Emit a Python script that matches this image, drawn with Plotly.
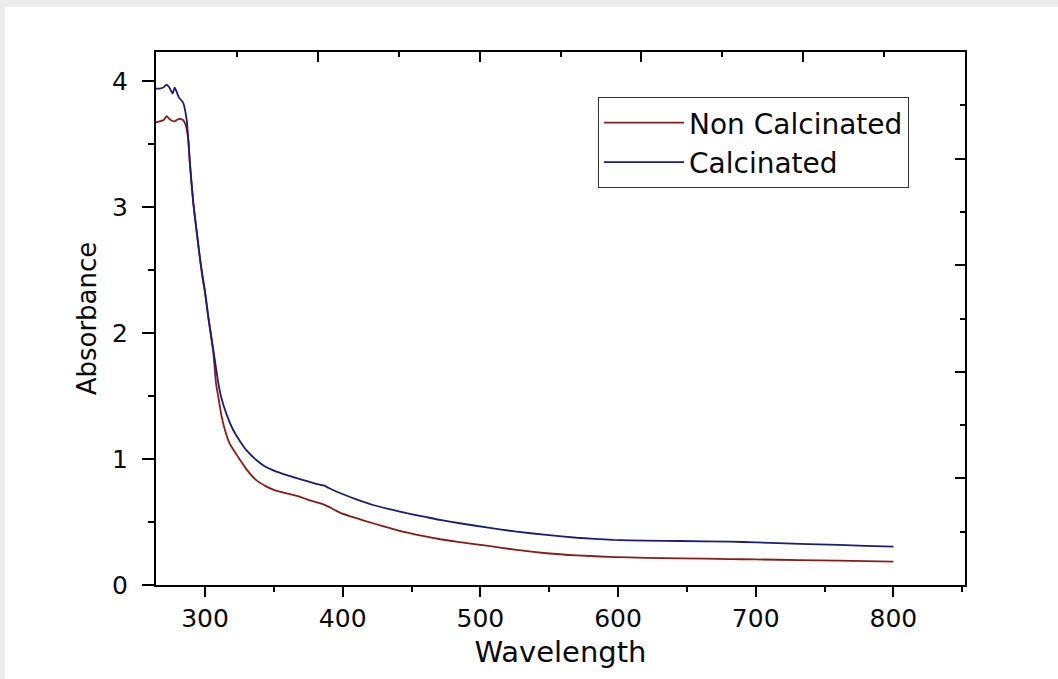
import plotly.graph_objects as go

# ---- data ----
wl_noncalc = [264, 267, 270, 272, 275, 278, 281, 284, 286, 288, 289, 291.5, 294, 296, 298, 300, 302,
              304, 306, 308, 310, 312, 315, 318, 322, 325, 330, 337.5, 344, 350, 360, 369, 374, 380,
              386, 390, 398, 410, 422, 435, 447, 460, 471, 485, 506, 525, 548, 570, 597, 620, 645,
              681, 700, 732, 760, 780, 800]
abs_noncalc = [3.67, 3.68, 3.69, 3.72, 3.69, 3.68, 3.70, 3.69, 3.65, 3.52, 3.35, 3.03, 2.80, 2.62,
               2.45, 2.32, 2.15, 2.00, 1.85, 1.60, 1.47, 1.34, 1.21, 1.12, 1.05, 1.00, 0.92, 0.83,
               0.785, 0.755, 0.725, 0.70, 0.68, 0.66, 0.64, 0.62, 0.575, 0.53, 0.49, 0.45, 0.415,
               0.385, 0.363, 0.34, 0.31, 0.28, 0.252, 0.235, 0.222, 0.216, 0.212, 0.206, 0.203,
               0.198, 0.193, 0.19, 0.185]

wl_calc = [264, 267, 270, 272, 274, 276.5, 278, 281, 284, 286.7, 289, 291.5, 294, 296, 298, 300,
           302.4, 306, 309.7, 312, 315.8, 320, 325.4, 330, 337.5, 343, 349.6, 360, 369, 374, 380,
           386, 390, 398, 410, 422, 435, 446.5, 460, 470.7, 485, 505.7, 525, 548, 570, 596.5, 620,
           645, 681, 700, 732, 760, 780, 800]
abs_calc = [3.94, 3.94, 3.95, 3.97, 3.95, 3.90, 3.95, 3.87, 3.83, 3.69, 3.35, 3.03, 2.80, 2.62, 2.47,
            2.33, 2.13, 1.87, 1.60, 1.48, 1.35, 1.24, 1.14, 1.07, 0.99, 0.945, 0.91, 0.87, 0.84,
            0.825, 0.805, 0.79, 0.77, 0.73, 0.68, 0.635, 0.60, 0.57, 0.54, 0.516, 0.49, 0.455,
            0.425, 0.397, 0.375, 0.358, 0.352, 0.349, 0.344, 0.338, 0.326, 0.318, 0.311, 0.304]

x_range = [264.4, 852]
y_range = [0, 4.23]

RED = "#8b1a1a"
BLUE = "#1c1c7a"
FONT = "DejaVu Sans"
INK = "#0a0a0a"

fig = go.Figure()
fig.add_trace(go.Scatter(x=wl_noncalc, y=abs_noncalc, mode="lines", name="Non Calcinated",
                         line=dict(color=RED, width=1.8, shape="spline", smoothing=0.5)))
fig.add_trace(go.Scatter(x=wl_calc, y=abs_calc, mode="lines", name="Calcinated",
                         line=dict(color=BLUE, width=1.8, shape="spline", smoothing=0.5)))
# empty trace to host the frame axes (top / right)
fig.add_trace(go.Scatter(x=[], y=[], xaxis="x2", yaxis="y2", showlegend=False, hoverinfo="skip"))

fig.update_layout(
    width=1058, height=679,
    margin=dict(l=156, r=93, t=52, b=94),
    paper_bgcolor="white", plot_bgcolor="white",
    font=dict(family=FONT, color=INK),
    showlegend=True,
    legend=dict(x=0.5464, y=0.9156, xanchor="left", yanchor="top",
                bgcolor="white", bordercolor="#333333", borderwidth=1,
                font=dict(size=28, family=FONT, color=INK),
                itemwidth=80, tracegroupgap=0),
    xaxis=dict(range=x_range, showline=True, linecolor="black", linewidth=2,
               ticks="outside", ticklen=10, tickwidth=2, tickcolor="black",
               tickmode="linear", tick0=300, dtick=100,
               minor=dict(ticks="outside", ticklen=5, tickwidth=2, tickcolor="black",
                          dtick=50, tick0=300, showgrid=False),
               showgrid=False, zeroline=False,
               tickfont=dict(size=25, family=FONT, color=INK), ticklabelstandoff=0,
               title=dict(text="Wavelength", font=dict(size=29, family=FONT, color=INK),
                          standoff=10)),
    yaxis=dict(range=y_range, showline=True, linecolor="black", linewidth=2,
               ticks="outside", ticklen=12, tickwidth=2, tickcolor="black",
               tickmode="linear", tick0=0, dtick=1,
               minor=dict(ticks="outside", ticklen=6, tickwidth=2, tickcolor="black",
                          dtick=0.5, tick0=0, showgrid=False),
               showgrid=False, zeroline=False,
               tickfont=dict(size=25, family=FONT, color=INK), ticklabelstandoff=9,
               title=dict(text="Absorbance", font=dict(size=26, family=FONT, color=INK),
                          standoff=8)),
    xaxis2=dict(range=[0, 10], overlaying="x", side="top", anchor="y2",
                showline=True, linecolor="black", linewidth=2,
                ticks="inside", ticklen=10, tickwidth=2, tickcolor="black",
                tickmode="linear", tick0=0, dtick=2,
                minor=dict(ticks="inside", ticklen=5, tickwidth=2, tickcolor="black",
                           dtick=1, tick0=0, showgrid=False),
                showticklabels=False, showgrid=False, zeroline=False),
    yaxis2=dict(range=[0, 10], overlaying="y", side="right", anchor="x2",
                showline=True, linecolor="black", linewidth=2,
                ticks="inside", ticklen=10, tickwidth=2, tickcolor="black",
                tickmode="linear", tick0=0, dtick=2,
                minor=dict(ticks="inside", ticklen=5, tickwidth=2, tickcolor="black",
                           dtick=1, tick0=0, showgrid=False),
                showticklabels=False, showgrid=False, zeroline=False),
)

# light-grey screenshot frame at top/left edges
W, H = 1058, 679
L, R, T, B = 156, 93, 52, 94
pw, ph = W - L - R, H - T - B
def px(xp):
    return (xp - L) / pw
def py(yp):
    return (H - B - yp) / ph
fig.add_shape(type="rect", xref="paper", yref="paper", layer="below",
              x0=px(0), x1=px(W), y0=py(H), y1=py(0), line=dict(width=0), fillcolor="#ececec")
fig.add_shape(type="rect", xref="paper", yref="paper", layer="below",
              x0=px(5), x1=px(W), y0=py(H), y1=py(7), line=dict(width=0), fillcolor="white")

fig.write_html("out.html")
